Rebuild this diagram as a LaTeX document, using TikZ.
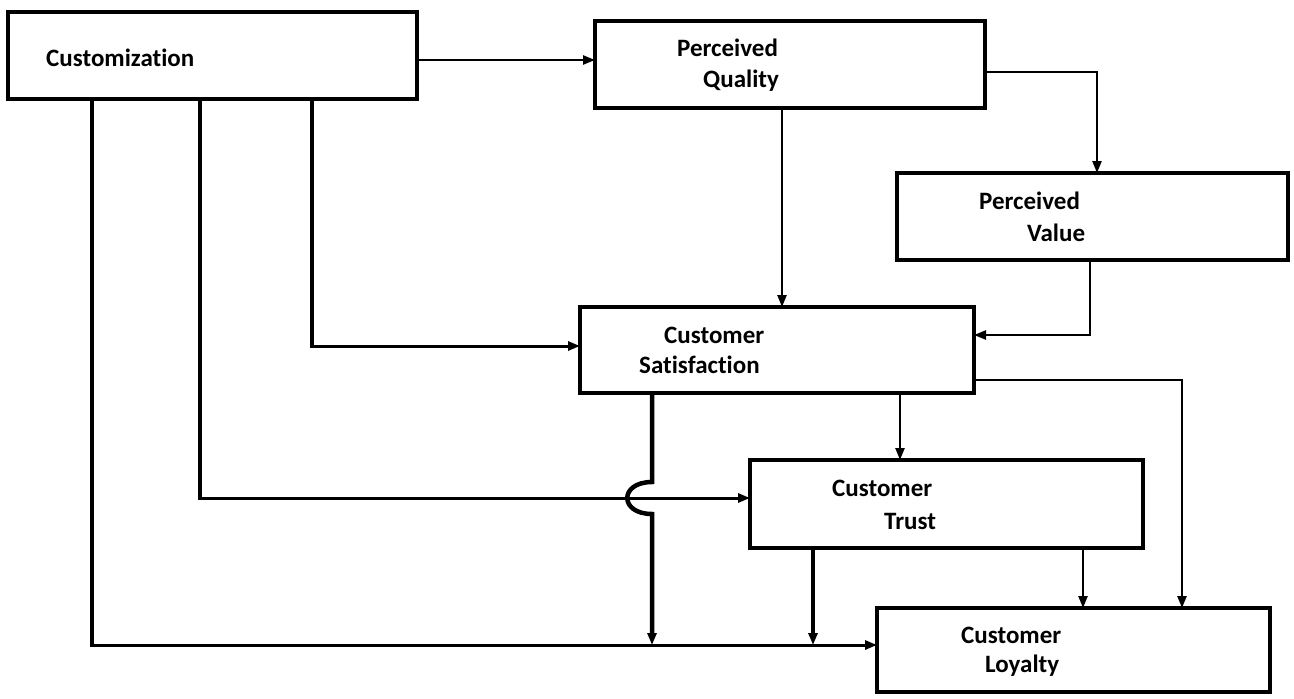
\documentclass[tikz,border=0pt]{standalone}
\usepackage{fontspec}
\setmainfont{Carlito}[Ligatures=NoCommon]
\usetikzlibrary{arrows.meta}
\begin{document}
\begin{tikzpicture}[x=1pt,y=-1pt,
  box/.style={draw, line width=3.4pt, rectangle, inner sep=0pt, outer sep=0pt, anchor=north west},
  lbl/.style={anchor=base west, inner sep=0pt, font=\fontsize{25}{30}\selectfont\bfseries},
  tip/.style={-{Triangle[length=12pt,width=9pt]}},
  wire/.style={line width=2.4pt},
  wiremid/.style={line width=3pt},
  wireheavy/.style={line width=4.8pt, line cap=rect}]

% canvas
\fill[white] (0,0) rectangle (1294,699);
\useasboundingbox (0,0) rectangle (1294,699);

% boxes
\node[box, minimum width=409pt, minimum height=87pt] (cust) at (8,12) {};
\node[box, minimum width=390pt, minimum height=87pt] (pq) at (595,21) {};
\node[box, minimum width=391pt, minimum height=87pt] (pv) at (897,173) {};
\node[box, minimum width=394pt, minimum height=86pt] (cs) at (580,307) {};
\node[box, minimum width=393pt, minimum height=88pt] (ct) at (750,460) {};
\node[box, minimum width=393pt, minimum height=84pt] (cl) at (877,608) {};

% box texts
\node[lbl] (custA) at (46,66) {Customization};
\node[lbl] (pqA) at (677,56) {Perceived};
\node[lbl] (pqB) at (703,87) {Quality};
\node[lbl] (pvA) at (979,209) {Perceived};
\node[lbl] (pvB) at (1027,241) {Value};
\node[lbl] (csA) at (664,343) {Customer};
\node[lbl] (csB) at (639,373) {Satisfaction};
\node[lbl] (ctA) at (832,496) {Customer};
\node[lbl] (ctB) at (884,529) {Trust};
\node[lbl] (clA) at (961,643) {Customer};
\node[lbl] (clB) at (985,672) {Loyalty};

% customization -> perceived quality
\draw[wire, tip] (cust.east |- 0,60) -- (pq.west |- 0,60);
% perceived quality -> perceived value
\draw[wire, tip] (pq.east |- 0,72) -| (1097,0 |- pv.north);
% perceived quality -> satisfaction
\draw[wire, tip] (782,0 |- pq.south) -- (782,0 |- cs.north);
% perceived value -> satisfaction
\draw[wire, tip] (1090,0 |- pv.south) |- (cs.east |- 0,335);

% customization -> satisfaction
\draw[wireheavy] (312,0 |- cust.south) -- (312,346) coordinate (k1);
\draw[wiremid, tip] (k1) -- (cs.west |- k1);
% customization -> trust
\draw[wireheavy] (200,0 |- cust.south) -- (200,498) coordinate (k2);
\draw[wiremid, tip] (k2) -- (ct.west |- k2);
% customization -> loyalty
\draw[wireheavy] (92,0 |- cust.south) -- (92,645) coordinate (k3);
\draw[wiremid, tip] (k3) -- (cl.west |- k3);

% satisfaction -> loyalty line, hopping over the trust line
\draw[line width=4.5pt, tip] (652,0 |- cs.south) -- (652,482)
  .. controls (619,482) and (619,514) .. (652,514) -- (652,0 |- k3);
% satisfaction -> trust
\draw[wire, tip] (900,0 |- cs.south) -- (900,0 |- ct.north);
% satisfaction -> loyalty
\draw[wire, tip] (cs.east |- 0,380) -| (1182,0 |- cl.north);
% trust -> loyalty line
\draw[line width=4.5pt, tip] (813,0 |- ct.south) -- (813,0 |- k3);
% trust -> loyalty
\draw[wire, tip] (1083,0 |- ct.south) -- (1083,0 |- cl.north);
\end{tikzpicture}
\end{document}
